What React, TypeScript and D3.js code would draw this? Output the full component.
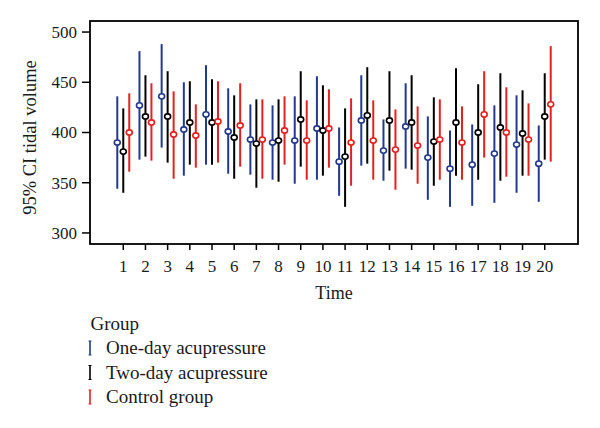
import React from "react";
import * as d3 from "d3";

const times = [1, 2, 3, 4, 5, 6, 7, 8, 9, 10, 11, 12, 13, 14, 15, 16, 17, 18, 19, 20];
const groups = ["One-day acupressure", "Two-day acupressure", "Control group"];
const groupColors = ["#22398f", "#000000", "#e3211e"];

const oneDayMean = [390, 427, 436, 403, 418, 401, 393, 390, 392, 404, 371, 412, 382, 406, 375, 364, 368, 379, 388, 369];
const oneDayLow = [344, 373, 385, 357, 368, 359, 358, 353, 349, 353, 337, 367, 352, 364, 333, 326, 327, 330, 340, 331];
const oneDayHigh = [436, 481, 488, 450, 467, 444, 428, 427, 436, 456, 405, 457, 413, 449, 416, 402, 408, 427, 437, 407];

const twoDayMean = [381, 416, 416, 410, 410, 395, 389, 392, 413, 402, 376, 417, 412, 410, 391, 410, 400, 405, 399, 416];
const twoDayLow = [340, 376, 370, 368, 368, 354, 345, 351, 366, 357, 326, 369, 362, 363, 347, 357, 353, 352, 357, 373];
const twoDayHigh = [424, 457, 461, 451, 453, 437, 433, 433, 461, 447, 424, 465, 461, 457, 435, 464, 448, 459, 442, 459];

const controlMean = [400, 410, 398, 397, 411, 407, 393, 402, 392, 404, 390, 392, 383, 387, 393, 390, 418, 400, 393, 428];
const controlLow = [361, 372, 354, 365, 370, 366, 354, 368, 353, 365, 347, 353, 343, 349, 353, 353, 375, 356, 357, 371];
const controlHigh = [439, 449, 441, 428, 451, 449, 433, 436, 432, 443, 434, 432, 423, 426, 433, 426, 461, 445, 429, 486];

const yTicks = [300, 350, 400, 450, 500];

const W = 600;
const H = 428;
const plot = { left: 90, right: 578, top: 21, bottom: 244 };
const FONT = "'Liberation Serif', 'DejaVu Serif', serif";
const TEXT = "#1a1a1a";

export default function App() {
  const x = d3.scaleLinear().domain([-0.5, 21.5]).range([plot.left, plot.right]);
  const y = d3.scaleLinear().domain([289, 511]).range([plot.bottom, plot.top]);

  const series = [
    { mean: oneDayMean, low: oneDayLow, high: oneDayHigh, offset: -0.27 },
    { mean: twoDayMean, low: twoDayLow, high: twoDayHigh, offset: 0 },
    { mean: controlMean, low: controlLow, high: controlHigh, offset: 0.27 },
  ];

  return (
    <svg
      width={W}
      height={H}
      style={{ position: "absolute", left: 0, top: 0, background: "#fff" }}
      fontFamily={FONT}
    >
      <rect x={0} y={0} width={W} height={H} fill="#fff" />
      {series.map((s, gi) => (
        <g key={gi}>
          {times.map((t, i) => {
            const cx = x(t + s.offset);
            return (
              <g key={i}>
                <line
                  x1={cx}
                  x2={cx}
                  y1={y(s.low[i])}
                  y2={y(s.high[i])}
                  stroke={groupColors[gi]}
                  strokeWidth={2}
                />
                <ellipse
                  cx={cx}
                  cy={y(s.mean[i])}
                  rx={3}
                  ry={2.6}
                  fill="#fff"
                  stroke={groupColors[gi]}
                  strokeWidth={1.6}
                />
              </g>
            );
          })}
        </g>
      ))}
      <rect
        x={plot.left}
        y={plot.top}
        width={plot.right - plot.left}
        height={plot.bottom - plot.top}
        fill="none"
        stroke="#000"
        strokeWidth={1.8}
      />
      {yTicks.map((v) => (
        <g key={v}>
          <line x1={plot.left - 8} x2={plot.left} y1={y(v)} y2={y(v)} stroke="#000" strokeWidth={1.5} />
          <text x={plot.left - 13} y={y(v)} dy="0.35em" textAnchor="end" fontSize={17} fill={TEXT}>
            {v}
          </text>
        </g>
      ))}
      <text
        transform={`translate(36, ${(plot.top + plot.bottom) / 2 + 5}) rotate(-90)`}
        textAnchor="middle"
        fontSize={18.5}
        fill={TEXT}
      >
        95% CI tidal volume
      </text>
      {times.map((t) => (
        <g key={t}>
          <line x1={x(t)} x2={x(t)} y1={plot.bottom} y2={plot.bottom + 6} stroke="#000" strokeWidth={1.5} />
          <text x={x(t)} y={271.5} textAnchor="middle" fontSize={17} fill={TEXT}>
            {t}
          </text>
        </g>
      ))}
      <text x={334} y={299} textAnchor="middle" fontSize={18} fill={TEXT}>
        Time
      </text>
      <text x={90.5} y={329.5} fontSize={19} fill={TEXT}>
        Group
      </text>
      {groups.map((g, i) => {
        const yy = 354 + i * 24.5;
        return (
          <g key={g}>
            <line x1={90} x2={90} y1={yy - 13} y2={yy + 1} stroke={groupColors[i]} strokeWidth={1.6} />
            <line x1={88.5} x2={91.5} y1={yy - 13} y2={yy - 13} stroke={groupColors[i]} strokeWidth={1} />
            <line x1={88.5} x2={91.5} y1={yy + 1} y2={yy + 1} stroke={groupColors[i]} strokeWidth={1} />
            <text x={106} y={yy} fontSize={19} fill={TEXT}>
              {g}
            </text>
          </g>
        );
      })}
    </svg>
  );
}
